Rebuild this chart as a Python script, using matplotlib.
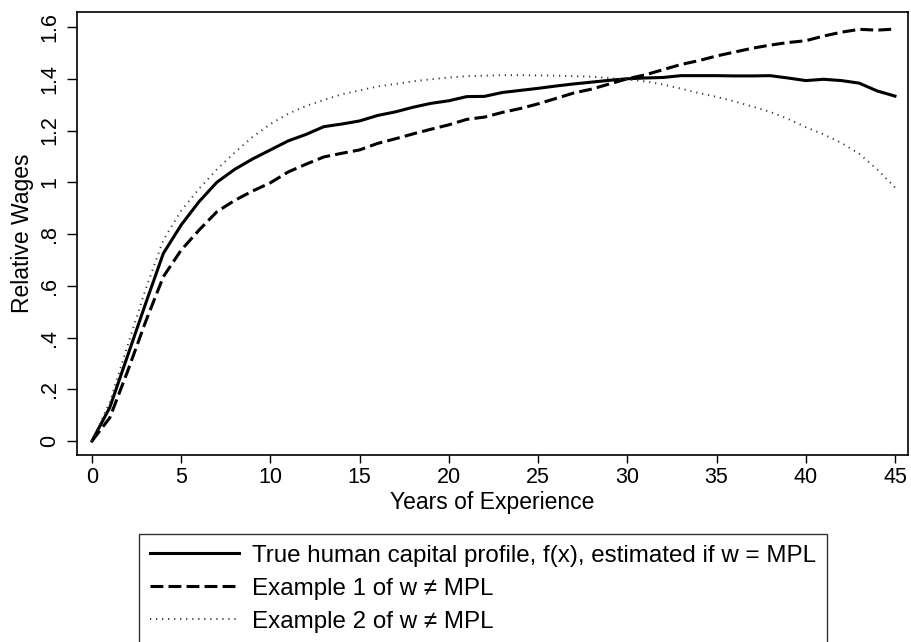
"""
Relative wage profiles over years of experience.
"""

import matplotlib

matplotlib.use("Agg")
import matplotlib.pyplot as plt

YEARS = list(range(0, 46))

TRUE_PROFILE = [
    0.0, 0.13, 0.33, 0.53, 0.725, 0.835, 0.925, 1.0, 1.05, 1.09,
    1.125, 1.16, 1.185, 1.215, 1.225, 1.237, 1.258, 1.272, 1.29, 1.305,
    1.315, 1.331, 1.332, 1.347, 1.355, 1.363, 1.372, 1.38, 1.387, 1.394,
    1.40, 1.403, 1.405, 1.412, 1.412, 1.412, 1.411, 1.411, 1.412, 1.403,
    1.393, 1.398, 1.393, 1.383, 1.353, 1.333,
]

EXAMPLE_1 = [
    0.0, 0.09, 0.27, 0.46, 0.635, 0.738, 0.815, 0.886, 0.93, 0.966,
    0.998, 1.04, 1.07, 1.098, 1.112, 1.125, 1.15, 1.168, 1.187, 1.205,
    1.222, 1.243, 1.252, 1.27, 1.285, 1.303, 1.324, 1.345, 1.36, 1.38,
    1.40, 1.415, 1.435, 1.455, 1.47, 1.488, 1.503, 1.518, 1.53, 1.54,
    1.547, 1.565, 1.58, 1.591, 1.588, 1.592,
]

EXAMPLE_2 = [
    0.0, 0.15, 0.37, 0.585, 0.777, 0.89, 0.975, 1.05, 1.115, 1.175,
    1.225, 1.265, 1.295, 1.318, 1.34, 1.355, 1.37, 1.38, 1.39, 1.398,
    1.405, 1.41, 1.412, 1.414, 1.414, 1.413, 1.412, 1.41, 1.408, 1.403,
    1.397, 1.39, 1.378, 1.362, 1.345, 1.33, 1.313, 1.293, 1.272, 1.245,
    1.213, 1.185, 1.152, 1.11, 1.05, 0.98,
]

LABELS = [
    "True human capital profile, f(x), estimated if w = MPL",
    "Example 1 of w \u2260 MPL",
    "Example 2 of w \u2260 MPL",
]

X_TICKS = [0, 5, 10, 15, 20, 25, 30, 35, 40, 45]
Y_TICKS = [0, 0.2, 0.4, 0.6, 0.8, 1.0, 1.2, 1.4, 1.6]
Y_TICK_LABELS = ["0", ".2", ".4", ".6", ".8", "1", "1.2", "1.4", "1.6"]


def main() -> None:
    plt.rcParams["font.family"] = ["Liberation Sans", "DejaVu Sans"]

    fig = plt.figure(figsize=(9.12, 6.42), dpi=100)
    ax = fig.add_axes([0.0844, 0.2913, 0.9112, 0.6900])

    ax.plot(YEARS, TRUE_PROFILE, color="black", lw=2.2, label=LABELS[0])
    ax.plot(YEARS, EXAMPLE_1, color="black", lw=2.2, dashes=(4.2, 1.7),
            label=LABELS[1])
    ax.plot(YEARS, EXAMPLE_2, color="#333333", lw=1.4, dashes=(0.6, 2.5),
            label=LABELS[2])

    ax.set_xlim(-0.84, 45.73)
    ax.set_ylim(-0.054, 1.658)
    ax.set_xticks(X_TICKS)
    ax.set_yticks(Y_TICKS)
    ax.set_yticklabels(Y_TICK_LABELS, rotation=90, va="center")

    ax.tick_params(axis="x", length=6, width=1, pad=3, labelsize=15.5)
    ax.tick_params(axis="y", length=7, width=1, pad=5, labelsize=15.5)
    for spine in ax.spines.values():
        spine.set_linewidth(1.2)

    ax.set_xlabel("Years of Experience", fontsize=16.5, labelpad=2)
    ax.set_ylabel("Relative Wages", fontsize=16.5, labelpad=4)

    leg = ax.legend(
        loc="upper left",
        bbox_to_anchor=(139 / 912, 1 - 534 / 642),
        bbox_transform=fig.transFigure,
        fontsize=17.4,
        frameon=True,
        fancybox=False,
        edgecolor="black",
        handlelength=3.7,
        handletextpad=0.54,
        labelspacing=0.45,
        borderpad=0.45,
        borderaxespad=0,
    )
    leg.get_frame().set_linewidth(1.0)

    fig.savefig("out.png", dpi=100)


if __name__ == "__main__":
    main()
